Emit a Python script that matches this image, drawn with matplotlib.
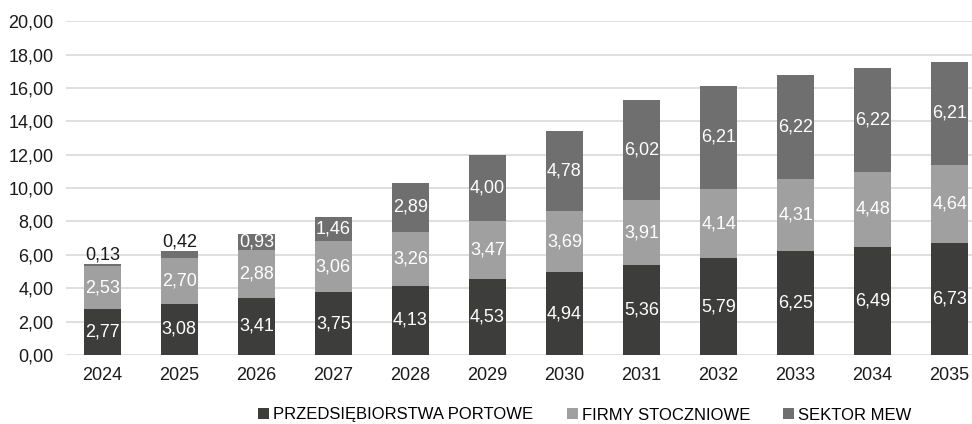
import numpy as np
import matplotlib
matplotlib.use('Agg')
import matplotlib.pyplot as plt

matplotlib.rcParams.update({'font.size': 13, 'font.family': ['Liberation Sans', 'DejaVu Sans']})

years = ['2024', '2025', '2026', '2027', '2028', '2029', '2030', '2031', '2032', '2033', '2034', '2035']
portowe = [2.77, 3.08, 3.41, 3.75, 4.13, 4.53, 4.94, 5.36, 5.79, 6.25, 6.49, 6.73]
stoczniowe = [2.53, 2.70, 2.88, 3.06, 3.26, 3.47, 3.69, 3.91, 4.14, 4.31, 4.48, 4.64]
mew = [0.13, 0.42, 0.93, 1.46, 2.89, 4.00, 4.78, 6.02, 6.21, 6.22, 6.22, 6.21]
names = ['PRZEDSIĘBIORSTWA PORTOWE', 'FIRMY STOCZNIOWE', 'SEKTOR MEW']
colors = ['#3d3d3c', '#a0a0a0', '#6f6f6f']

fmt = lambda v: f'{v:.2f}'.replace('.', ',')

fig = plt.figure(figsize=(9.72, 4.24), dpi=100)
ax = fig.add_axes([0.068, 0.163, 0.932, 0.787])
x = np.arange(len(years))
w = 0.48
bottom = np.zeros(len(years))
for vals, name, col in zip([portowe, stoczniowe, mew], names, colors):
    vals = np.array(vals)
    ax.bar(x, vals, w, bottom=bottom, color=col, label=name, zorder=2)
    for i, v in enumerate(vals):
        if v < 0.5:
            # tiny segments: label sits above the bar
            ax.text(x[i], bottom[i] + v + 0.05, fmt(v), ha='center', va='bottom', color='#1a1a1a')
        else:
            ax.text(x[i], bottom[i] + v / 2, fmt(v), ha='center', va='center', color='white')
    bottom += vals

ax.set_xlim(-0.47, 11.29)
ax.set_ylim(0, 20)
ax.set_yticks(np.arange(0, 21, 2))
ax.set_yticklabels([fmt(v) for v in np.arange(0, 21, 2)])
ax.set_xticks(x)
ax.set_xticklabels(years)
ax.grid(axis='y', color='#d9d9d9', linewidth=1.2, zorder=0)
for s in ax.spines.values():
    s.set_visible(False)
ax.tick_params(length=0, labelsize=13, colors='#1a1a1a')
ax.tick_params(axis='x', pad=9)
ax.tick_params(axis='y', pad=9)
fig.legend(loc='center', bbox_to_anchor=(585 / 972, 1 - 415 / 424), ncol=3, frameon=False,
           handlelength=0.65, handleheight=0.65, handletextpad=0.25, columnspacing=2.0, fontsize=12)
fig.savefig('out.png', dpi=100)
